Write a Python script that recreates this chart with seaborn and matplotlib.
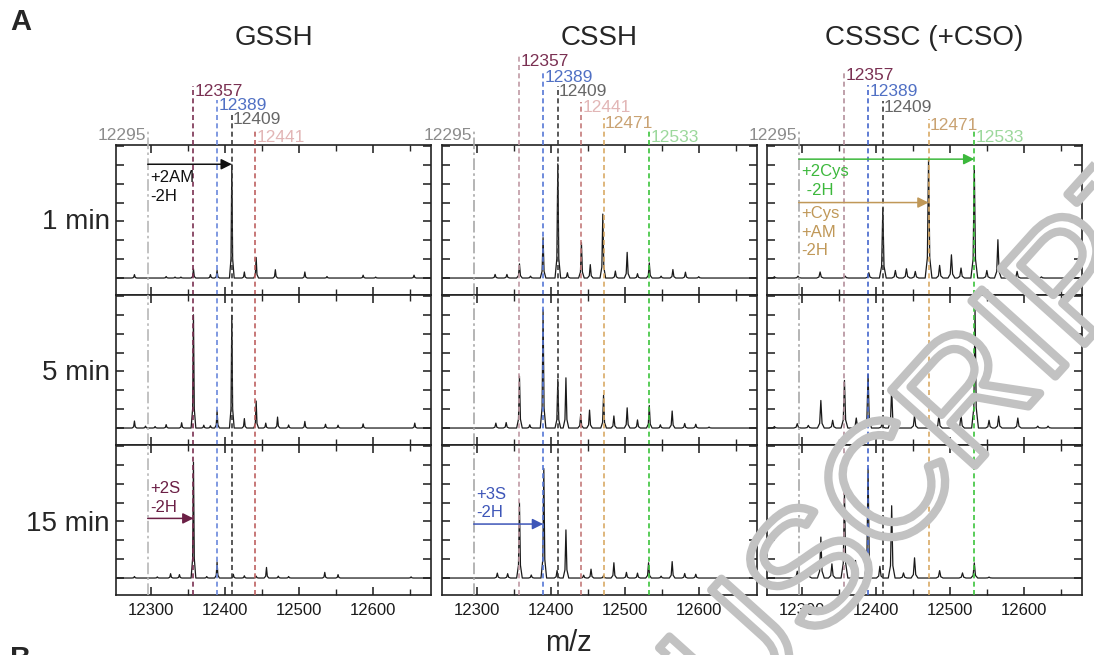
import pandas as pd
import seaborn as sns
import matplotlib.pyplot as plt
import matplotlib.patheffects as pe
from matplotlib.ticker import MultipleLocator

sns.set_style('ticks')
plt.rcParams['font.family'] = ['Liberation Sans', 'DejaVu Sans']

samples = ['GSSH', 'CSSH', 'CSSSC (+CSO)']
times = ['1 min', '5 min', '15 min']

# peak lists (m/z, height in y-tick units)
gssh_1_mz = [12277, 12320, 12332, 12340, 12357, 12380, 12389, 12409, 12426, 12442, 12468, 12508, 12538, 12587, 12604, 12656]
gssh_1_int = [0.18, 0.08, 0.05, 0.05, 0.48, 0.18, 0.40, 6.03, 0.32, 1.09, 0.44, 0.32, 0.08, 0.15, 0.05, 0.15]
gssh_5_mz = [12277, 12292, 12305, 12320, 12341, 12357, 12371, 12380, 12389, 12409, 12426, 12442, 12455, 12471, 12486, 12508, 12536, 12553, 12587, 12657]
gssh_5_int = [0.37, 0.10, 0.08, 0.18, 0.28, 6.00, 0.15, 0.12, 0.93, 5.98, 0.50, 1.43, 0.26, 0.58, 0.16, 0.35, 0.20, 0.15, 0.22, 0.26]
gssh_15_mz = [12277, 12308, 12326, 12338, 12357, 12375, 12389, 12411, 12426, 12442, 12456, 12472, 12486, 12535, 12553, 12652]
gssh_15_int = [0.08, 0.06, 0.23, 0.18, 6.14, 0.08, 0.85, 0.20, 0.12, 0.10, 0.56, 0.10, 0.08, 0.30, 0.18, 0.06]

cssh_1_mz = [12324, 12340, 12357, 12372, 12389, 12409, 12422, 12441, 12453, 12470, 12487, 12503, 12517, 12533, 12549, 12565, 12582, 12600]
cssh_1_int = [0.19, 0.19, 0.75, 0.10, 2.14, 6.05, 0.28, 1.88, 0.71, 3.39, 0.37, 1.36, 0.23, 0.80, 0.10, 0.45, 0.31, 0.07]
cssh_5_mz = [12325, 12339, 12357, 12371, 12389, 12409, 12420, 12440, 12452, 12471, 12485, 12503, 12517, 12533, 12548, 12564, 12581, 12596, 12614]
cssh_5_int = [0.26, 0.29, 2.75, 0.17, 6.26, 2.58, 2.66, 0.73, 0.95, 1.73, 0.64, 1.07, 0.43, 1.19, 0.17, 0.90, 0.24, 0.20, 0.05]
cssh_15_mz = [12327, 12341, 12357, 12373, 12390, 12408, 12420, 12444, 12454, 12471, 12485, 12502, 12517, 12532, 12549, 12564, 12581, 12596]
cssh_15_int = [0.26, 0.23, 3.99, 0.16, 5.80, 0.40, 2.55, 0.15, 0.47, 0.13, 0.81, 0.30, 0.26, 0.81, 0.10, 0.87, 0.24, 0.20]

cssc_1_mz = [12262, 12294, 12324, 12358, 12390, 12409, 12426, 12441, 12453, 12471, 12486, 12502, 12515, 12533, 12550, 12565, 12591, 12624]
cssc_1_int = [0.07, 0.10, 0.32, 0.10, 0.28, 3.70, 0.40, 0.49, 0.35, 6.30, 0.67, 1.23, 0.53, 5.93, 0.40, 2.03, 0.35, 0.06]
cssc_5_mz = [12262, 12293, 12308, 12325, 12341, 12357, 12373, 12389, 12408, 12421, 12452, 12485, 12505, 12515, 12534, 12553, 12566, 12592, 12619, 12633]
cssc_5_int = [0.08, 0.23, 0.14, 1.46, 0.41, 2.52, 0.53, 2.84, 0.23, 2.10, 0.67, 0.67, 0.15, 0.70, 6.30, 0.41, 0.63, 0.53, 0.10, 0.10]
cssc_15_mz = [12293, 12308, 12325, 12340, 12357, 12372, 12389, 12405, 12421, 12437, 12452, 12486, 12517, 12533, 12553]
cssc_15_int = [0.36, 0.41, 2.17, 0.75, 4.63, 0.93, 5.78, 0.62, 3.83, 0.27, 1.07, 0.39, 0.27, 0.80, 0.05]

peaks = {
    ('GSSH', '1 min'): (gssh_1_mz, gssh_1_int),
    ('GSSH', '5 min'): (gssh_5_mz, gssh_5_int),
    ('GSSH', '15 min'): (gssh_15_mz, gssh_15_int),
    ('CSSH', '1 min'): (cssh_1_mz, cssh_1_int),
    ('CSSH', '5 min'): (cssh_5_mz, cssh_5_int),
    ('CSSH', '15 min'): (cssh_15_mz, cssh_15_int),
    ('CSSSC (+CSO)', '1 min'): (cssc_1_mz, cssc_1_int),
    ('CSSSC (+CSO)', '5 min'): (cssc_5_mz, cssc_5_int),
    ('CSSSC (+CSO)', '15 min'): (cssc_15_mz, cssc_15_int),
}

# reference masses marked in each column
ref_masses = {
    'GSSH': [12295, 12357, 12389, 12409, 12441],
    'CSSH': [12295, 12357, 12389, 12409, 12441, 12471, 12533],
    'CSSSC (+CSO)': [12295, 12357, 12389, 12409, 12471, 12533],
}

# annotated shifts: (sample, time, start, end, arrow y, label)
shifts = [
    ('GSSH', '1 min', 12295, 12409, 6.03, '+2AM\n-2H'),
    ('GSSH', '15 min', 12295, 12357, 3.16, '+2S\n-2H'),
    ('CSSH', '15 min', 12295, 12389, 2.86, '+3S\n-2H'),
    ('CSSSC (+CSO)', '1 min', 12295, 12533, 6.30, '+2Cys\n -2H'),
    ('CSSSC (+CSO)', '1 min', 12295, 12471, 4.00, '+Cys\n+AM\n-2H'),
]

# ---- styling ----
XLIM = (12252, 12679)
YLIM = (-0.9, 7.05)
PX_PER_UNIT = 150 / (YLIM[1] - YLIM[0])

ref_style = {
    12295: dict(text='#8c8c8c', line='#b8b8b8', ls=(0, (7, 2, 1.5, 2))),
    12357: dict(text='#7a3052', line='#7a3052', ls=(0, (3, 2))),
    12389: dict(text='#5070c4', line='#6a88dc', ls=(0, (3, 2))),
    12409: dict(text='#666666', line='#3c3c3c', ls=(0, (3, 2))),
    12441: dict(text='#e2b6b6', line='#bd6060', ls=(0, (3, 2))),
    12471: dict(text='#c9a272', line='#d9aa66', ls=(0, (3, 2))),
    12533: dict(text='#9cd89c', line='#3cc43c', ls=(0, (3, 2))),
}
line_override = {('CSSH', 12357): '#c09aa4', ('CSSSC (+CSO)', 12357): '#b4909c',
                 ('CSSH', 12389): '#5577d6', ('CSSSC (+CSO)', 12389): '#4466cc',
                 ('CSSH', 12441): '#c47a7a', ('CSSH', 12295): '#a8a8a8',
                 ('CSSSC (+CSO)', 12295): '#a8a8a8'}
# label heights above the top row (pixel row of text centre)
label_px = {
    'GSSH': {12295: 136, 12357: 92, 12389: 106, 12409: 120, 12441: 137},
    'CSSH': {12295: 136, 12357: 62, 12389: 77, 12409: 92, 12441: 108, 12471: 124, 12533: 137},
    'CSSSC (+CSO)': {12295: 136, 12357: 76, 12389: 91, 12409: 107, 12471: 125, 12533: 137},
}
shift_colors = ['#111111', '#6b1f45', '#3d55b8', '#3cb83c', '#c09858']
shift_text_y = [4.82, 4.23, 3.96, 5.13, 2.43]
half_width = {'GSSH': 3.2, 'CSSH': 3.8, 'CSSSC (+CSO)': 4.6}

rows = []
for (s, t), (mz, inten) in peaks.items():
    hw = half_width[s]
    rows.append((s, t, XLIM[0], 0.0))
    for m, h in sorted(zip(mz, inten)):
        for dx, f in [(-hw, 0), (-hw * 0.35, 0.17), (0, 1), (hw * 0.35, 0.17), (hw, 0)]:
            rows.append((s, t, m + dx, h * f))
    rows.append((s, t, XLIM[1], 0.0))
df = pd.DataFrame(rows, columns=['sample', 'time', 'mz', 'intensity'])

fig = plt.figure(figsize=(10.94, 6.55), dpi=100)
lefts = [116, 442, 767]
axes = {}
for c, s in enumerate(samples):
    for r, t in enumerate(times):
        ax = fig.add_axes([lefts[c] / 1094, (655 - (295 + 150 * r)) / 655, 315 / 1094, 150 / 655])
        axes[(s, t)] = ax
        sub = df[(df['sample'] == s) & (df['time'] == t)]
        sns.lineplot(data=sub, x='mz', y='intensity', estimator=None, sort=False,
                     color='#1a1a1a', lw=0.9, ax=ax, zorder=2)
        ax.set_xlim(XLIM)
        ax.set_ylim(YLIM)
        ax.set_xticks([12300, 12400, 12500, 12600])
        ax.xaxis.set_minor_locator(MultipleLocator(50))
        ax.set_yticks(range(0, 8))
        ax.set_yticklabels([])
        ax.tick_params(which='major', direction='in', top=True, right=True,
                       length=6, width=1.1, labelsize=12, pad=6, colors='#1a1a1a')
        ax.tick_params(which='minor', direction='in', top=True, length=4, width=1.0)
        if r < 2:
            ax.set_xticklabels([])
        ax.set_xlabel('')
        ax.set_ylabel('')
        for sp in ax.spines.values():
            sp.set_linewidth(1.2)
            sp.set_color('#222222')

        for m in ref_masses[s]:
            st = ref_style[m]
            col = line_override.get((s, m), st['line'])
            if r == 0:
                ytop = YLIM[1] + (145 - (label_px[s][m] - 6)) / PX_PER_UNIT
                ax.plot([m, m], [YLIM[0], ytop], color=col, ls=st['ls'], lw=1.2,
                        clip_on=False, zorder=3)
                yl = YLIM[1] + (145 - label_px[s][m]) / PX_PER_UNIT
                if m == 12295:
                    ax.text(m - 2.5, yl, str(m), color=st['text'], fontsize=12.5,
                            ha='right', va='center')
                else:
                    ax.text(m + 1.5, yl, str(m), color=st['text'], fontsize=12.5,
                            ha='left', va='center')
            else:
                ax.axvline(m, color=col, ls=st['ls'], lw=1.2, zorder=3)

    top = axes[(s, times[0])]
    top.text(0.5, 1 + (145 - 38) / 150, s, transform=top.transAxes, fontsize=20,
             ha='center', va='center')

for i, (s, t, a, b, y, lab) in enumerate(shifts):
    ax = axes[(s, t)]
    ax.annotate('', xy=(b, y), xytext=(a, y),
                arrowprops=dict(arrowstyle='-|>', color=shift_colors[i], lw=1.1,
                                mutation_scale=16, shrinkA=0, shrinkB=0), zorder=4)
    ax.text(a + 4, shift_text_y[i], lab, color=shift_colors[i], fontsize=12,
            ha='left', va='center', linespacing=1.3, zorder=4)

for r, t in enumerate(times):
    fig.text(110 / 1094, (655 - (222 + 151 * r)) / 655, t, fontsize=20,
             ha='right', va='center')

fig.text(568 / 1094, (655 - 643) / 655, 'm/z', fontsize=21, ha='center', va='center')
fig.text(10 / 1094, (655 - 22) / 655, 'A', fontsize=21, fontweight='bold', va='center')
fig.text(10 / 1094, (655 - 645) / 655, 'B', fontsize=21, fontweight='bold', va='top')

# accepted-manuscript watermark (outlined letters)
fig.text(1216 / 1094, (655 - 198) / 655, 'ACCEPTED MANUSCRIPT', fontsize=118,
         rotation=48, rotation_mode='anchor', ha='right', va='baseline',
         color='none', zorder=10,
         path_effects=[pe.Stroke(linewidth=6, foreground='#c2c2c2')])

fig.savefig('out.png', dpi=100)
